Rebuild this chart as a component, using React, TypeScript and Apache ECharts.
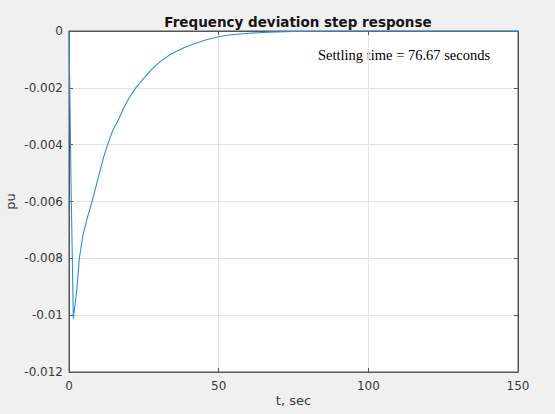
import React, { useEffect, useRef } from "react";
import * as echarts from "echarts";

const timeSec = [0, 0.7, 1.44, 2.33, 2.89, 3.44, 4.56, 5.89, 7.67, 9, 10.44, 11.6, 12.9, 14.7, 16.8, 18.4, 20.1, 22.3, 25.1, 27.8, 30.7, 34.2, 38.4, 42, 46.2, 50, 53.4, 60, 67, 75, 85, 97, 150];
const deviationPu = [0, -0.0055, -0.01012, -0.00936, -0.00877, -0.00801, -0.00724, -0.00666, -0.00601, -0.00548, -0.00489, -0.00443, -0.004, -0.00348, -0.00306, -0.00268, -0.00235, -0.002, -0.00165, -0.00133, -0.00106, -0.0008, -0.00059, -0.00044, -0.0003, -0.0002, -0.00014, -0.00008, -0.00004, -0.00002, -0.00001, 0, 0];
const titleText = "Frequency deviation step response";
const annotation = "Settling time = 76.67 seconds";
const xName = "t, sec";
const yName = "pu";

export default function App() {
  const ref = useRef<HTMLDivElement>(null);
  useEffect(() => {
    if (!ref.current) return;
    const chart = echarts.init(ref.current, undefined, { renderer: "svg" });
    const data = timeSec.map((t, i) => [t, deviationPu[i]]);
    const tickColor = "#3a3a3a";
    const axisColor = "#555";
    const font = "DejaVu Sans";
    chart.setOption({
      animation: false,
      backgroundColor: "#f0f0f0",
      title: {
        text: titleText,
        left: 293,
        textAlign: "center",
        top: 10,
        textStyle: { fontFamily: font, fontSize: 13.5, fontWeight: "bold", color: "#151515" },
      },
      grid: {
        left: 69,
        right: 37,
        top: 31,
        bottom: 42,
        containLabel: false,
        outerBoundsMode: "none",
        show: true,
        backgroundColor: "#fff",
        borderColor: axisColor,
        borderWidth: 1,
      },
      xAxis: [
        {
          type: "value",
          min: 0,
          max: 150,
          interval: 50,
          name: xName,
          nameLocation: "middle",
          nameGap: 22,
          nameMoveOverlap: false,
          nameTextStyle: { fontFamily: font, fontSize: 13, color: tickColor },
          axisLine: { show: true, onZero: false, lineStyle: { color: axisColor } },
          axisTick: { show: true, inside: true, length: 4, lineStyle: { color: axisColor } },
          axisLabel: { fontFamily: font, fontSize: 12, color: tickColor, margin: 8 },
          splitLine: { show: true, lineStyle: { color: "#e3e3e3" } },
        },
        {
          type: "value",
          position: "top",
          min: 0,
          max: 150,
          interval: 50,
          axisLine: { show: true, onZero: false, lineStyle: { color: axisColor } },
          axisTick: { show: true, inside: true, length: 4, lineStyle: { color: axisColor } },
          axisLabel: { show: false },
          splitLine: { show: false },
        },
      ],
      yAxis: [
        {
          type: "value",
          min: -0.012,
          max: 0,
          interval: 0.002,
          name: yName,
          nameLocation: "middle",
          nameGap: 52,
          nameMoveOverlap: false,
          nameTextStyle: { fontFamily: font, fontSize: 13, color: tickColor },
          axisLine: { show: true, onZero: false, lineStyle: { color: axisColor } },
          axisTick: { show: true, inside: true, length: 4, lineStyle: { color: axisColor } },
          axisLabel: {
            fontFamily: font,
            fontSize: 12,
            color: tickColor,
            margin: 6,
            formatter: (v: number) => String(parseFloat(v.toFixed(4))),
          },
          splitLine: { show: true, lineStyle: { color: "#e3e3e3" } },
        },
        {
          type: "value",
          position: "right",
          min: -0.012,
          max: 0,
          interval: 0.002,
          axisLine: { show: true, onZero: false, lineStyle: { color: axisColor } },
          axisTick: { show: true, inside: true, length: 4, lineStyle: { color: axisColor } },
          axisLabel: { show: false },
          splitLine: { show: false },
        },
      ],
      graphic: [
        {
          type: "text",
          left: 318,
          top: 47,
          style: { text: annotation, fontFamily: "Liberation Serif", fontSize: 14.5, fill: "#000" },
        },
      ],
      series: [
        {
          type: "line",
          data,
          showSymbol: false,
          smooth: false,
          lineStyle: { color: "#2f8fd6", width: 1.1 },
          clip: true,
        },
      ],
    });
    return () => chart.dispose();
  }, []);
  return <div ref={ref} style={{ width: 555, height: 414, position: "fixed", left: 0, top: 0 }} />;
}
